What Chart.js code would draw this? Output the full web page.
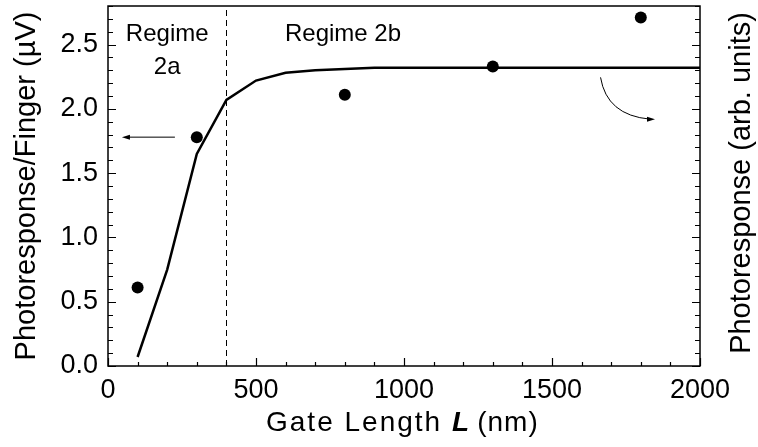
<!DOCTYPE html>
<html>
<head>
<meta charset="utf-8">
<script src="https://cdn.jsdelivr.net/npm/chart.js@4.4.1/dist/chart.umd.min.js"></script>
<style>
  html, body { margin: 0; padding: 0; background: #fff; }
  #wrap { width: 758px; height: 447px; }
</style>
</head>
<body>
<div id="wrap"><canvas id="gateChart"></canvas></div>
<script>
// measured photoresponse per finger vs gate length
const gateLength = [100, 300, 800, 1300, 1800];
const photoresponse = [0.61, 1.78, 2.11, 2.33, 2.71];

// model curve (arb. units, right axis)
const modelLength = [100, 200, 300, 400, 500, 600, 700, 800, 900, 1000, 2000];
const modelResponse = [0.07, 0.75, 1.65, 2.07, 2.22, 2.28, 2.30, 2.31, 2.32, 2.32, 2.32];

const xTicks = [0, 500, 1000, 1500, 2000];
const yTicks = [0, 0.5, 1.0, 1.5, 2.0, 2.5];
const yMax = 2.8;
const regimeBoundary = 400;

const FONT = '"Liberation Sans", Arial, Helvetica, sans-serif';

// fixed tick lists; keep the axis range exactly as configured
function fixTicks(list, lo, hi) {
    return s => {
        s.ticks = list.map(v => ({ value: v }));
        s.min = lo;
        s.max = hi;
    };
}

// fixed box sizes, no extra room for overhanging labels
function fixSize(prop, size) {
    return s => {
        s[prop] = size;
        s.paddingTop = 0; s.paddingBottom = 0;
        s.paddingLeft = 0; s.paddingRight = 0;
    };
}

// vertical title reading bottom to top, baseline at bx
function verticalTitle(ctx, text, bx, cy) {
    ctx.save();
    ctx.translate(bx, cy);
    ctx.rotate(-Math.PI / 2);
    ctx.font = '29px ' + FONT;
    ctx.textAlign = 'center';
    ctx.textBaseline = 'alphabetic';
    ctx.fillText(text, 0, 0);
    ctx.restore();
}

// frame, inward ticks, dashed boundary, labels and arrows
const decorations = {
    id: 'decorations',
    afterDraw(chart) {
        const ctx = chart.ctx;
        const { left, right, top, bottom } = chart.chartArea;
        const x = chart.scales.x, y = chart.scales.y;
        ctx.save();
        ctx.strokeStyle = '#000';
        ctx.fillStyle = '#000';

        // frame
        ctx.lineWidth = 1.5;
        ctx.strokeRect(left, top, right - left, bottom - top);

        // x ticks (bottom only)
        ctx.lineWidth = 1.2;
        for (let v = 0; v <= 2000; v += 100) {
            const px = Math.round(x.getPixelForValue(v)) + 0.5;
            const len = v % 500 === 0 ? 8 : 4;
            ctx.beginPath();
            ctx.moveTo(px, bottom);
            ctx.lineTo(px, bottom - len);
            ctx.stroke();
        }
        // y ticks on both sides
        for (let i = 0; i <= 28; i++) {
            const v = i / 10;
            const py = Math.round(y.getPixelForValue(v)) + 0.5;
            const len = i % 5 === 0 ? 8 : 5;
            ctx.beginPath();
            ctx.moveTo(left, py); ctx.lineTo(left + len, py);
            ctx.moveTo(right, py); ctx.lineTo(right - len, py);
            ctx.stroke();
        }

        // regime boundary
        const bx = Math.round(x.getPixelForValue(regimeBoundary)) + 0.5;
        ctx.lineWidth = 1;
        ctx.setLineDash([6, 4]);
        ctx.beginPath();
        ctx.moveTo(bx, bottom); ctx.lineTo(bx, top);
        ctx.stroke();
        ctx.setLineDash([]);

        // regime labels
        ctx.font = '24px ' + FONT;
        ctx.textAlign = 'center';
        ctx.textBaseline = 'middle';
        ctx.fillText('Regime', x.getPixelForValue(200), y.getPixelForValue(2.58));
        ctx.fillText('2a', x.getPixelForValue(200), y.getPixelForValue(2.32));
        ctx.fillText('Regime 2b', x.getPixelForValue(794), y.getPixelForValue(2.58));

        // arrow to left axis
        const ay = y.getPixelForValue(1.78);
        const ax0 = x.getPixelForValue(226), ax1 = x.getPixelForValue(47);
        ctx.lineWidth = 1;
        ctx.beginPath();
        ctx.moveTo(ax0, ay); ctx.lineTo(ax1 + 6, ay);
        ctx.stroke();
        ctx.beginPath();
        ctx.moveTo(ax1, ay); ctx.lineTo(ax1 + 8, ay - 2.5); ctx.lineTo(ax1 + 8, ay + 2.5);
        ctx.closePath(); ctx.fill();

        // curved arrow to right axis
        const sx = x.getPixelForValue(1664), sy = y.getPixelForValue(2.245);
        const cx = x.getPixelForValue(1685), cy = y.getPixelForValue(1.95);
        const ex = x.getPixelForValue(1848), ey = y.getPixelForValue(1.92);
        ctx.beginPath();
        ctx.moveTo(sx, sy);
        ctx.quadraticCurveTo(cx, cy, ex - 5, ey);
        ctx.stroke();
        ctx.beginPath();
        ctx.moveTo(ex, ey); ctx.lineTo(ex - 8, ey - 2.5); ctx.lineTo(ex - 8, ey + 2.5);
        ctx.closePath(); ctx.fill();

        // axis titles
        verticalTitle(ctx, 'Photoresponse/Finger (\u00b5V)', 35, 186);
        verticalTitle(ctx, 'Photoresponse (arb. units)', 750, 183);

        // x axis title with italic bold L
        ctx.textAlign = 'left';
        ctx.textBaseline = 'middle';
        const ty = 423;
        const part1 = 'Gate Length', part2 = 'L', part3 = '(nm)';
        ctx.letterSpacing = '2px';
        ctx.font = '28px ' + FONT;
        const w1 = ctx.measureText(part1).width;
        ctx.font = 'italic bold 28px ' + FONT;
        const w2 = ctx.measureText(part2).width;
        const gap1 = 10, gap2 = 6;
        let tx = 266;
        ctx.font = '28px ' + FONT;
        ctx.fillText(part1, tx, ty);
        tx += w1 + gap1;
        ctx.font = 'italic bold 28px ' + FONT;
        ctx.fillText(part2, tx, ty);
        tx += w2 + gap2;
        ctx.letterSpacing = '1px';
        ctx.font = '28px ' + FONT;
        ctx.fillText(part3, tx, ty);
        ctx.restore();
    }
};

const ctx = document.getElementById('gateChart').getContext('2d');
const gateChart = new Chart(ctx, {
    type: 'scatter',
    data: {
        datasets: [
            {
                label: 'Model',
                data: modelLength.map((v, i) => ({ x: v, y: modelResponse[i] })),
                yAxisID: 'y2',
                showLine: true,
                borderColor: '#000',
                borderWidth: 2.5,
                pointRadius: 0,
                tension: 0
            },
            {
                label: 'Measured',
                data: gateLength.map((v, i) => ({ x: v, y: photoresponse[i] })),
                yAxisID: 'y',
                backgroundColor: '#000',
                borderColor: '#000',
                pointRadius: 6,
                pointBorderWidth: 0
            }
        ]
    },
    options: {
        responsive: true,
        maintainAspectRatio: false,
        animation: false,
        layout: { padding: { top: 4, left: 0, right: 0, bottom: 0 } },
        plugins: { legend: { display: false }, tooltip: { enabled: false } },
        scales: {
            x: {
                type: 'linear',
                min: 0, max: 2000,
                afterBuildTicks: fixTicks(xTicks, 0, 2000),
                afterFit: fixSize('height', 81),
                grid: { display: false, drawTicks: false },
                border: { display: false },
                ticks: { color: '#000', font: { family: FONT, size: 27 }, padding: 8, maxRotation: 0,
                         callback: v => String(v) }
            },
            y: {
                position: 'left',
                min: 0, max: yMax,
                afterBuildTicks: fixTicks(yTicks, 0, yMax),
                afterFit: fixSize('width', 108),
                grid: { display: false, drawTicks: false },
                border: { display: false },
                ticks: { color: '#000', font: { family: FONT, size: 27 }, padding: 10,
                         callback: v => v.toFixed(1) }
            },
            y2: {
                position: 'right',
                min: 0, max: yMax,
                afterBuildTicks: fixTicks(yTicks, 0, yMax),
                afterFit: fixSize('width', 58),
                grid: { display: false, drawTicks: false },
                border: { display: false },
                ticks: { display: false }
            }
        }
    },
    plugins: [decorations]
});
</script>
</body>
</html>
